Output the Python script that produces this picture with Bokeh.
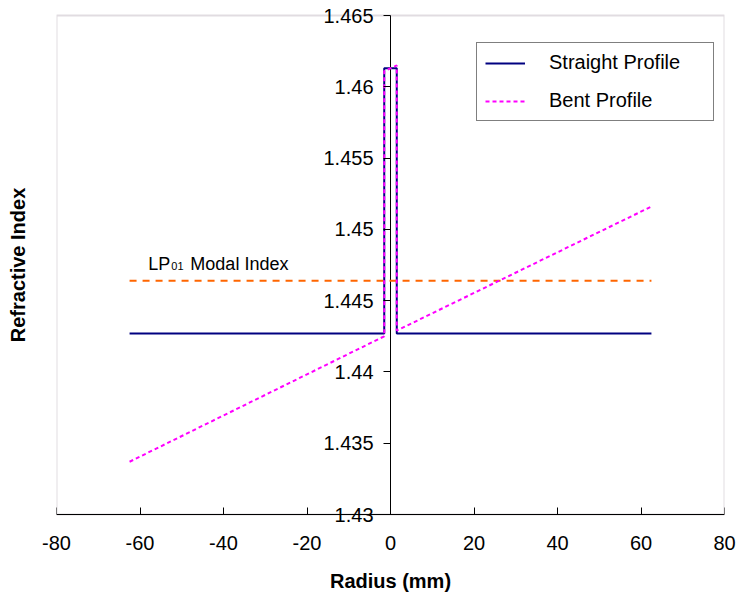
from bokeh.plotting import figure
from bokeh.models import (Range1d, FixedTicker, Legend, LegendItem, Label, Title,
                          LinearAxis, BoxAnnotation)
from bokeh.embed import file_html
from bokeh.resources import INLINE

# ---- data ----
radius_straight = [-62.5, -1.5, -1.5, 1.5, 1.5, 62.5]
index_straight = [1.4427, 1.4427, 1.4613, 1.4613, 1.4427, 1.4427]

radius_bent = [-62.5, -1.5, -1.5, 1.5, 1.5, 62.5]
index_bent = [1.4337, 1.4425, 1.4611, 1.4615, 1.4429, 1.4516]

radius_modal = [-62.5, 62.5]
index_modal = [1.4464, 1.4464]

x_ticks = [-80, -60, -40, -20, 0, 20, 40, 60, 80]
x_tick_labels = ["-80", "-60", "-40", "-20", "0", "20", "40", "60", "80"]
y_ticks = [1.43, 1.435, 1.44, 1.445, 1.45, 1.455, 1.46, 1.465]
y_tick_labels = ["1.43", "1.435", "1.44", "1.445", "1.45", "1.455", "1.46", "1.465"]

FONT = "Liberation Sans"

x_min, x_max = x_ticks[0], x_ticks[-1]
y_min, y_max = y_ticks[0], y_ticks[-1]
# frame extends 12 px beyond the plotted area so the end tick labels are not clipped
pad = 12 * (y_max - y_min) / 499

p = figure(width=738, height=598, output_backend="svg", toolbar_location=None,
           x_range=Range1d(x_min, x_max),
           y_range=Range1d(y_min - pad, y_max + pad),
           min_border_left=56, min_border_right=14, min_border_top=3,
           min_border_bottom=72)
p.background_fill_color = "white"
p.border_fill_color = "white"
p.outline_line_color = None
p.xgrid.visible = False
p.ygrid.visible = False

# plot-area border
p.add_layout(BoxAnnotation(left=x_min, right=x_max, bottom=y_min, top=y_max,
                           fill_color=None, line_color="#9c8c9c", line_width=2,
                           level="underlay"))

# x axis: labels + title in the bottom panel
xa = p.xaxis[0]
xa.ticker = FixedTicker(ticks=x_ticks)
xa.major_label_overrides = {t: s for t, s in zip(x_ticks, x_tick_labels)}
xa.minor_tick_line_color = None
xa.major_tick_line_color = None
xa.axis_line_color = None
xa.major_tick_in = 0
xa.major_tick_out = 0
xa.major_label_text_font = FONT
xa.major_label_text_font_size = "20px"
xa.major_label_text_color = "black"
xa.major_label_standoff = 9
xa.axis_label = "Radius (mm)"
xa.axis_label_text_font = FONT
xa.axis_label_text_font_size = "20px"
xa.axis_label_text_font_style = "bold"
xa.axis_label_text_color = "black"
xa.axis_label_standoff = 17

# x axis line + ticks at y = 1.43
xline = LinearAxis(fixed_location=y_min, ticker=FixedTicker(ticks=x_ticks))
xline.minor_tick_line_color = None
xline.major_tick_in = 7
xline.major_tick_out = 0
xline.axis_line_color = "black"
xline.major_tick_line_color = "black"
xline.major_label_text_color = None
xline.major_label_text_font_size = "1px"
p.add_layout(xline, "below")

# y axis at x = 0
ya = p.yaxis[0]
ya.fixed_location = 0
ya.ticker = FixedTicker(ticks=y_ticks)
ya.minor_tick_line_color = None
ya.major_tick_in = 0
ya.major_tick_out = 7
ya.axis_line_color = None
ya.major_tick_line_color = "black"
ya.major_label_text_color = None
ya.major_label_text_font_size = "1px"
p.segment(x0=[0], y0=[y_min], x1=[0], y1=[y_max], line_color="black", line_width=1)

for t, s in zip(y_ticks, y_tick_labels):
    p.add_layout(Label(x=0, y=t, text=s, x_offset=-17, text_align="right",
                       text_baseline="middle", text_font=FONT,
                       text_font_size="20px", text_color="black"))

# spacer (closest to frame) then the axis title
p.add_layout(Title(text=" ", text_font_size="20px", standoff=0), "left")
p.add_layout(Title(text="Refractive Index", align="center", text_font=FONT,
                   text_font_size="20px", text_font_style="bold",
                   text_color="black", standoff=7), "left")

r_straight = p.line(radius_straight, index_straight, line_color="#000080", line_width=2)
r_modal = p.line(radius_modal, index_modal, line_color="#ff6600", line_width=2,
                 line_dash="7 6")
r_bent = p.line(radius_bent, index_bent, line_color="#ff00ff", line_width=2,
                line_dash="4 3")

# modal index annotation
lx, ly = -58, 1.4476
p.add_layout(Label(x=lx, y=ly, text="LP", text_font=FONT, text_font_size="18px",
                   text_color="black", text_baseline="alphabetic"))
p.add_layout(Label(x=lx, y=ly, x_offset=23, y_offset=-2, text="01", text_font=FONT,
                   text_font_size="11px", text_color="black",
                   text_baseline="alphabetic"))
p.add_layout(Label(x=lx, y=ly, x_offset=42, text="Modal Index", text_font=FONT,
                   text_font_size="18px", text_color="black",
                   text_baseline="alphabetic"))

legend = Legend(items=[LegendItem(label="Straight Profile", renderers=[r_straight]),
                       LegendItem(label="Bent Profile", renderers=[r_bent])],
                location=(420, 405))
legend.border_line_color = "black"
legend.border_line_width = 1
legend.background_fill_color = "white"
legend.background_fill_alpha = 1
legend.padding = 8
legend.margin = 0
legend.spacing = 15
legend.glyph_width = 40
legend.glyph_height = 14
legend.label_height = 14
legend.label_width = 156
legend.label_standoff = 24
legend.label_text_font = FONT
legend.label_text_font_size = "20px"
legend.label_text_color = "black"
legend.label_text_baseline = "middle"
p.add_layout(legend)

open("out.html", "w").write(file_html(p, INLINE))
